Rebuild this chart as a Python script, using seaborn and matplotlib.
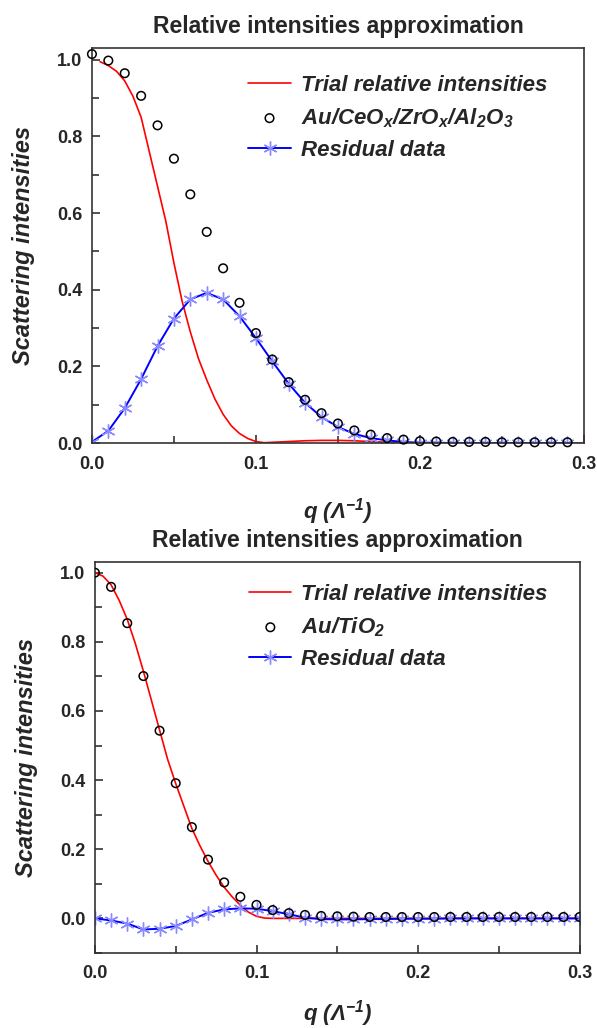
import numpy as np
import matplotlib
matplotlib.use("Agg")
import matplotlib.pyplot as plt
import seaborn as sns
from matplotlib.ticker import MultipleLocator

# ---- data ----
q_pts = [0.00, 0.01, 0.02, 0.03, 0.04, 0.05, 0.06, 0.07, 0.08, 0.09,
         0.10, 0.11, 0.12, 0.13, 0.14, 0.15, 0.16, 0.17, 0.18, 0.19,
         0.20, 0.21, 0.22, 0.23, 0.24, 0.25, 0.26, 0.27, 0.28, 0.29]

# top panel: Au/CeOx/ZrOx/Al2O3
top_data = [1.015, 0.998, 0.965, 0.906, 0.829, 0.742, 0.649, 0.551, 0.456, 0.366,
            0.287, 0.218, 0.159, 0.113, 0.078, 0.051, 0.033, 0.022, 0.013, 0.009,
            0.005, 0.004, 0.003, 0.003, 0.003, 0.002, 0.002, 0.002, 0.002, 0.002]
top_resid = [0.003, 0.032, 0.091, 0.167, 0.253, 0.325, 0.375, 0.392, 0.375, 0.331,
             0.274, 0.213, 0.155, 0.105, 0.068, 0.042, 0.024, 0.013, 0.007, 0.003,
             0.001, 0.001, 0.0, 0.0, 0.0, 0.0, 0.0, 0.0, 0.0, 0.0]
top_trial_q = [0.005, 0.01, 0.015, 0.02, 0.025, 0.03, 0.035, 0.04, 0.045, 0.05,
               0.055, 0.06, 0.065, 0.07, 0.075, 0.08, 0.085, 0.09, 0.095, 0.10,
               0.105, 0.11, 0.12, 0.13, 0.14, 0.15, 0.16, 0.17, 0.18, 0.19, 0.20, 0.30]
top_trial = [0.995, 0.985, 0.97, 0.945, 0.905, 0.85, 0.76, 0.67, 0.58, 0.47,
             0.37, 0.29, 0.22, 0.165, 0.115, 0.075, 0.045, 0.025, 0.012, 0.004,
             0.001, 0.002, 0.004, 0.006, 0.007, 0.007, 0.006, 0.004, 0.002, 0.001, 0.0, 0.0]

# bottom panel: Au/TiO2
q_pts_b = q_pts + [0.30]
bot_data = [1.0, 0.959, 0.854, 0.701, 0.543, 0.391, 0.264, 0.170, 0.104, 0.0625,
            0.039, 0.024, 0.015, 0.010, 0.007, 0.006, 0.005, 0.004, 0.004, 0.004,
            0.004, 0.004, 0.004, 0.004, 0.004, 0.004, 0.004, 0.004, 0.004, 0.004, 0.004]
bot_resid = [0.0, -0.006, -0.015, -0.032, -0.030, -0.022, -0.003, 0.016, 0.026, 0.029,
             0.028, 0.021, 0.012, 0.002, -0.002, -0.003, -0.003, -0.002, -0.002, -0.001,
             -0.001, -0.001, 0.0, 0.0, 0.0, 0.0, 0.0, 0.0, 0.0, 0.0, 0.0]
bot_trial_q = [0.0, 0.005, 0.01, 0.015, 0.02, 0.025, 0.03, 0.035, 0.04, 0.045,
               0.05, 0.055, 0.06, 0.065, 0.07, 0.075, 0.08, 0.085, 0.09, 0.095,
               0.10, 0.105, 0.11, 0.30]
bot_trial = [1.0, 0.99, 0.965, 0.92, 0.865, 0.795, 0.715, 0.63, 0.545, 0.46,
             0.39, 0.325, 0.26, 0.21, 0.165, 0.125, 0.09, 0.062, 0.038, 0.018,
             0.006, 0.001, 0.0, 0.0]

title = "Relative intensities approximation"
ylabel = "Scattering intensities"
xlabel = "q (\u039b$^{-1}$)"

sns.set_style("white")
plt.rcParams['font.family'] = ['Liberation Sans', 'DejaVu Sans']
plt.rcParams['mathtext.default'] = 'regular'

fig = plt.figure(figsize=(5.97, 10.28), dpi=100)
ax1 = fig.add_axes([0.154, 0.569, 0.824, 0.384])
ax2 = fig.add_axes([0.159, 0.073, 0.812, 0.380])


def draw(ax, qt, trial, qd, data, resid, data_label, ylim, clip, leg_y, xpad):
    sns.lineplot(x=qt, y=trial, ax=ax, color='#ff0000', lw=1.2,
                 label='Trial relative intensities')
    sns.scatterplot(x=qd, y=data, ax=ax, marker='o', s=38, facecolor='none',
                    edgecolor='black', linewidth=1.1, label=data_label,
                    clip_on=clip, zorder=3)
    sns.lineplot(x=qd, y=resid, ax=ax, color='#0000ff', lw=1.4,
                 marker=(6, 2, 0), markersize=10, markeredgecolor='#8a8aff',
                 markeredgewidth=1.0, label='Residual data', zorder=2)
    ax.set_xlim(0, 0.3)
    ax.set_ylim(*ylim)
    ax.xaxis.set_major_locator(MultipleLocator(0.1))
    ax.xaxis.set_minor_locator(MultipleLocator(0.05))
    ax.yaxis.set_major_locator(MultipleLocator(0.2))
    ax.yaxis.set_minor_locator(MultipleLocator(0.1))
    ax.tick_params(which='both', direction='in', bottom=True, left=True,
                   top=False, right=False, color='#222222', width=1.1)
    ax.tick_params(which='major', length=6, labelsize=13)
    ax.tick_params(axis='x', which='major', pad=9)
    ax.tick_params(axis='y', which='major', pad=7)
    ax.tick_params(which='minor', length=5)
    ax.xaxis.set_major_formatter(plt.FuncFormatter(lambda v, p: "%.1f" % v))
    ax.yaxis.set_major_formatter(plt.FuncFormatter(lambda v, p: "%.1f" % v))
    for sp in ax.spines.values():
        sp.set_color('#333333')
        sp.set_linewidth(1.2)
    ax.set_title(title, fontsize=16.5, fontweight='bold', pad=11)
    ax.set_ylabel(ylabel, fontsize=17, fontweight='bold', style='italic', labelpad=16)
    ax.set_xlabel(xlabel, fontsize=16, fontweight='bold', style='italic', labelpad=xpad)
    ax.legend(loc='upper left', bbox_to_anchor=(0.3, leg_y), frameon=False,
              prop={'size': 16, 'weight': 'bold', 'style': 'italic'},
              handlelength=1.9, handletextpad=0.45, labelspacing=0.45,
              borderaxespad=0)


draw(ax1, top_trial_q, top_trial, q_pts, top_data, top_resid,
     "Au/CeO$_x$/ZrO$_x$/Al$_2$O$_3$", (0, 1.03), False, 0.955, 17)
draw(ax2, bot_trial_q, bot_trial, q_pts_b, bot_data, bot_resid,
     "Au/TiO$_2$", (-0.1, 1.03), True, 0.967, 11)
for t in ax1.get_xticklabels() + ax1.get_yticklabels() + ax2.get_xticklabels() + ax2.get_yticklabels():
    t.set_fontweight('bold')

fig.savefig("out.png", dpi=100)
